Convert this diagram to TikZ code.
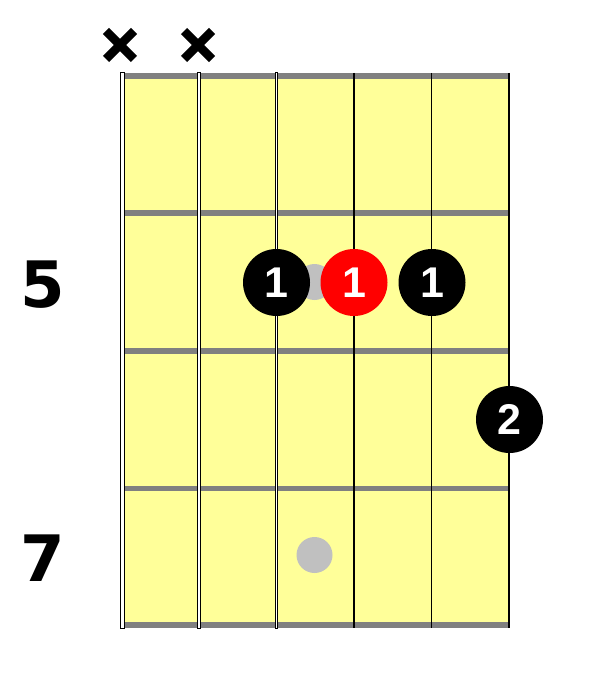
\documentclass[tikz,border=0pt]{standalone}
\usepackage{fontspec}
\setmainfont{Liberation Sans}
\newfontfamily\numfont{DejaVu Sans}
\begin{document}
\begin{tikzpicture}[x=1pt,y=-1pt,
  fret/.style={draw=fretgray,line width=5.5pt},
  inlay/.style={circle,fill=inlaygray,minimum size=36pt,inner sep=0pt},
  finger/.style={circle,fill=black,minimum size=67pt,inner sep=0pt,text=white,font=\fontsize{43}{43}\selectfont\bfseries},
  rootfinger/.style={finger,fill=red},
  thinstring/.style={draw=black,line width=1.4pt},
  woundstring/.style={draw=black,fill=white,line width=1pt},
  fretnum/.style={font=\numfont\fontsize{64}{64}\selectfont\bfseries},
  mute/.style={line width=8.5pt,line cap=butt}]
\definecolor{fretgray}{HTML}{808080}
\definecolor{inlaygray}{HTML}{C0C0C0}
\definecolor{board}{HTML}{FFFF99}
\useasboundingbox (0,0) rectangle (595,676);
% board
\fill[board] (122,74) rectangle (509,626);
% frets
\foreach \y/\n in {76/f0,213/f1,351/f2,488.5/f3,625/f4}{
  \coordinate (\n l) at (122,\y);
  \coordinate (\n r) at (509,\y);
  \draw[fret] (\n l) -- (\n r);
}
% inlays
\node[inlay] (in5) at (314.5,282) {};
\node[inlay] (in7) at (314.5,555) {};
% strings
\draw[woundstring] (120.5,73) rectangle (124.5,628);
\draw[woundstring] (197,73) rectangle (200.5,628);
\draw[woundstring] (275.5,73) rectangle (277.5,628);
\foreach \x/\n in {354/s4,431.5/s5,509/s6}{
  \coordinate (\n t) at (\x,73);
  \coordinate (\n b) at (\x,628);
  \draw[thinstring] (\n t) -- (\n b);
}
% mutes
\foreach \x/\n in {120/m1,198/m2}{
  \coordinate (\n a) at (\x-14,31);
  \coordinate (\n b) at (\x+14,59);
  \coordinate (\n c) at (\x-14,59);
  \coordinate (\n d) at (\x+14,31);
  \draw[mute] (\n a) -- (\n b);
  \draw[mute] (\n c) -- (\n d);
}
% fingers
\node[finger] (d1) at (276.5,282.5) {1};
\node[rootfinger] (d2) at (354,282.5) {1};
\node[finger] (d3) at (432,282.5) {1};
\node[finger] (d4) at (509.5,419.5) {2};
% fret numbers
\node[fretnum] (n5) at (43,284.5) {5};
\node[fretnum] (n7) at (42.5,558.5) {7};
\end{tikzpicture}
\end{document}
